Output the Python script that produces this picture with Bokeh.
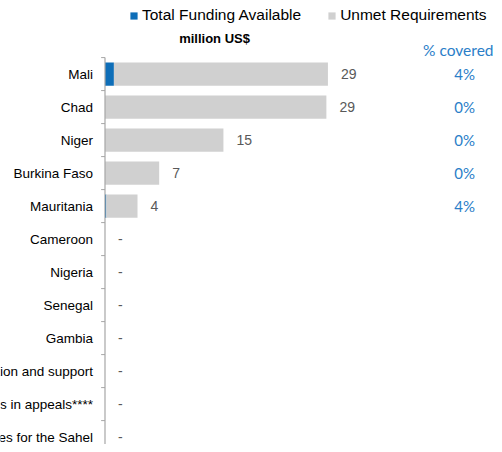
from bokeh.plotting import figure
from bokeh.models import (ColumnDataSource, Range1d, LinearAxis, FixedTicker,
                          Legend, LegendItem, Label)
from bokeh.core.properties import value
from bokeh.embed import file_html
from bokeh.resources import INLINE

# ---- data ----
categories = ["Mali", "Chad", "Niger", "Burkina Faso", "Mauritania", "Cameroon",
              "Nigeria", "Senegal", "Gambia", "Coordination and support",
              "Other countries in appeals****", "Regional activities for the Sahel"]
funding = [1.15, 0.0, 0.0, 0.0, 0.17, 0, 0, 0, 0, 0, 0, 0]
unmet = [27.65, 28.6, 15.3, 7.0, 4.03, 0, 0, 0, 0, 0, 0, 0]

total = [f + u for f, u in zip(funding, unmet)]
idx = list(range(len(categories)))
val_lbl = [f"{t:.0f}" if t > 0 else "-" for t in total]
pct_lbl = [f"{100 * f / t:.0f}%" if t > 0 else "" for f, t in zip(funding, total)]

BLUE = "#0E6EB8"
GREY = "#D0D0D0"
PCT = "#2A7EC8"
FONT = "Liberation Sans"

W, H = 494, 444
p = figure(width=W, height=H, output_backend="svg", toolbar_location=None,
           x_axis_type=None, y_axis_type=None,
           x_range=Range1d(-13.5, 50.32), y_range=Range1d(11.224, -2.23),
           min_border=0, outline_line_color=None)
p.xgrid.visible = False
p.ygrid.visible = False

src = ColumnDataSource(dict(y=idx, cat=categories, funding=funding, unmet=unmet,
                            total=total, vl=val_lbl, pl=pct_lbl))

r_fund = p.hbar(y="y", left=0, right="funding", height=0.7, source=src,
                fill_color=BLUE, line_color=None)
r_unmet = p.hbar(y="y", left="funding", right="total", height=0.7, source=src,
                 fill_color=GREY, line_color=None)

# axis line and boundary ticks
p.segment(x0=0, y0=-0.5, x1=0, y1=len(idx) + 1, line_color="#A6A6A6", line_width=1.2)
bnd = [i - 0.5 for i in range(len(idx) + 1)]
p.segment(x0=[-0.5] * len(bnd), y0=bnd, x1=[0] * len(bnd), y1=bnd,
          line_color="#A6A6A6", line_width=1)

# value labels
p.text(x="total", y="y", text="vl", source=src, x_offset=13,
       text_align="left", text_baseline="middle", text_color="#595959",
       text_font=value(FONT), text_font_size="14px")

# percent labels
p.text(x=46.45, y="y", text="pl", source=src, text_align="center",
       text_baseline="middle", text_color=PCT, text_font=value("Lato"),
       text_font_size="15px")

p.add_layout(Label(x=50.19, y=-0.72, text="% covered", text_align="right",
                   text_baseline="middle", text_color=PCT, text_font="Lato",
                   text_font_size="15.5px"))
p.add_layout(Label(x=14.15, y=-1.07, text="million US$", text_align="center",
                   text_baseline="middle", text_color="#000000", text_font=FONT,
                   text_font_size="13px", text_font_style="bold"))

# category axis
ax = LinearAxis(ticker=FixedTicker(ticks=idx),
                major_label_overrides={i: c for i, c in zip(idx, categories)},
                fixed_location=0, axis_line_color=None,
                major_tick_line_color=None, minor_tick_line_color=None,
                major_tick_out=0, major_tick_in=0, major_label_standoff=12,
                major_label_text_font=FONT, major_label_text_font_size="13.5px",
                major_label_text_color="#000000")
p.add_layout(ax, "left")

legend = Legend(items=[LegendItem(label="Total Funding Available", renderers=[r_fund]),
                       LegendItem(label="Unmet Requirements", renderers=[r_unmet])],
                orientation="horizontal", location=(129, 420),
                glyph_width=9, glyph_height=9, label_standoff=4, spacing=26,
                padding=0, margin=0, border_line_color=None,
                background_fill_alpha=0, label_text_font=FONT,
                label_text_font_size="15.5px", label_text_color="#000000",
                label_height=16)
p.add_layout(legend, "center")

open("out.html", "w").write(file_html(p, INLINE))
